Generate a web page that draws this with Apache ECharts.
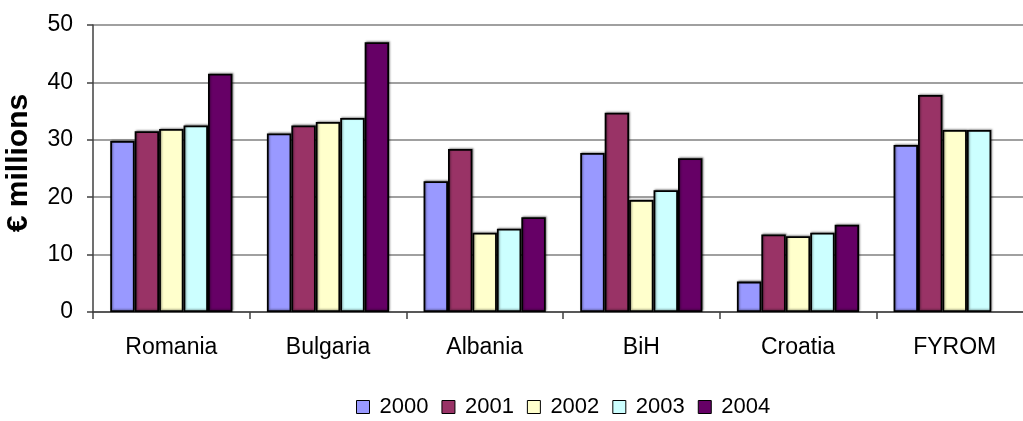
<!DOCTYPE html>
<html>
<head>
<meta charset="utf-8">
<script src="https://cdn.jsdelivr.net/npm/echarts@6/dist/echarts.min.js"></script>
<style>
  html, body { margin: 0; padding: 0; background: #fff; overflow: hidden; }
  #chart { width: 1023px; height: 421px; }
</style>
</head>
<body>
<div id="chart"></div>
<script>
// Countries on the x axis
const countries = ['Romania', 'Bulgaria', 'Albania', 'BiH', 'Croatia', 'FYROM'];
// Yearly values, € millions
const years = ['2000', '2001', '2002', '2003', '2004'];
const v2000 = [29.8, 31.1, 22.8, 27.7, 5.3, 29.1];
const v2001 = [31.5, 32.5, 28.4, 34.7, 13.5, 37.8];
const v2002 = [31.9, 33.1, 13.8, 19.5, 13.2, 31.7];
const v2003 = [32.5, 33.8, 14.5, 21.2, 13.8, 31.7];
const v2004 = [41.5, 47.0, 16.5, 26.8, 15.2, null];
const yTicks = [0, 10, 20, 30, 40, 50];

const values = [v2000, v2001, v2002, v2003, v2004];
const colors = ['#9999FF', '#993366', '#FFFFCC', '#CCFFFF', '#660066'];
const font = '"Liberation Sans", Arial, sans-serif';

const chart = echarts.init(document.getElementById('chart'), null, { renderer: 'canvas' });

chart.setOption({
  animation: false,
  textStyle: { fontFamily: font },
  // plot area runs a little past the right edge of the canvas
  grid: { left: 93, top: 25, width: 940, height: 287, containLabel: false, outerBoundsMode: 'none' },
  legend: {
    top: 396,
    left: 356,
    padding: 0,
    itemWidth: 13,
    itemHeight: 13,
    itemGap: 13,
    icon: 'rect',
    textStyle: { fontSize: 22, color: '#000', fontFamily: font, padding: [0, 0, 0, 5] },
    data: years.map(function (y, i) {
      return { name: y, itemStyle: { color: colors[i], borderColor: '#000', borderWidth: 1 } };
    })
  },
  xAxis: {
    type: 'category',
    data: countries,
    boundaryGap: true,
    axisLine: { lineStyle: { color: '#404040', width: 1.5 } },
    axisTick: { show: true, alignWithLabel: false, length: 7, lineStyle: { color: '#404040', width: 1.5 } },
    axisLabel: { fontSize: 23, color: '#000', margin: 24, fontFamily: font }
  },
  yAxis: {
    type: 'value',
    min: 0,
    max: 50,
    interval: 10,
    name: '€ millions',
    nameLocation: 'middle',
    nameGap: 59,
    nameRotate: 90,
    nameTextStyle: { fontSize: 30, fontWeight: 'bold', color: '#000', fontFamily: font, padding: [0, 0, 0, 11] },
    axisLine: { show: true, lineStyle: { color: '#404040', width: 1.5 } },
    axisTick: { show: true, length: 6, lineStyle: { color: '#404040', width: 1.5 } },
    axisLabel: {
      fontSize: 23, color: '#000', margin: 20, fontFamily: font,
      formatter: function (v) { return yTicks.indexOf(v) >= 0 ? String(v) : ''; }
    },
    splitLine: { show: true, lineStyle: { color: '#808080', width: 1.5 } }
  },
  series: years.map(function (y, i) {
    return {
      name: y,
      type: 'bar',
      data: values[i],
      barGap: '0%',
      barCategoryGap: '22%',
      itemStyle: {
        color: colors[i],
        borderColor: '#000',
        borderWidth: 1.8,
        shadowColor: 'rgba(0,0,0,0.35)',
        shadowBlur: 2,
        shadowOffsetX: 1,
        shadowOffsetY: -1
      }
    };
  })
});
</script>
</body>
</html>
